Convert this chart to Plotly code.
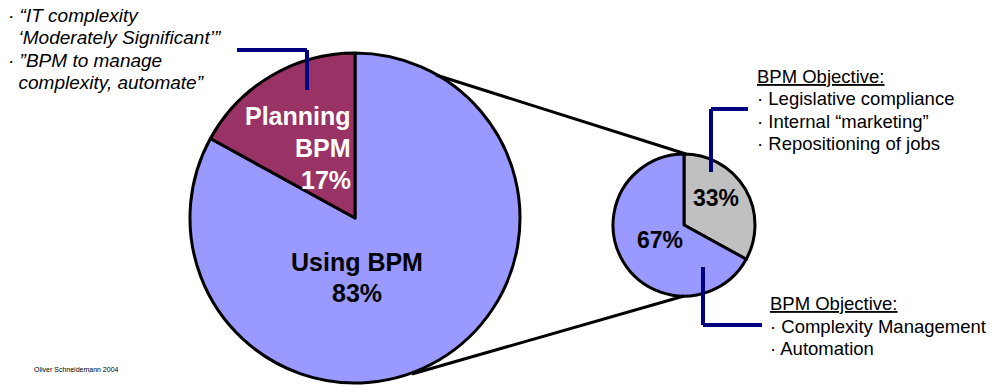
import plotly.graph_objects as go

W, H = 994, 385

# Survey split and the drill-down of the "Using BPM" share
main_labels = ["Using BPM", "Planning BPM"]
main_values = [83, 17]
main_colors = ["#9999FF", "#993366"]

sub_labels = ["Other objectives", "Complexity / automation"]
sub_values = [33, 67]
sub_colors = ["#C0C0C0", "#9999FF"]

left_notes = ["· “IT complexity", "  ‘Moderately Significant’”",
              "· ”BPM to manage", "  complexity, automate”"]
top_objectives = ["· Legislative compliance", "· Internal “marketing”", "· Repositioning of jobs"]
bottom_objectives = ["· Complexity Management", "· Automation"]

FONT = "Liberation Sans, Arial, sans-serif"


def px(x):
    return x / W


def py(y):
    return 1 - y / H


fig = go.Figure()

fig.add_trace(go.Pie(
    labels=main_labels, values=main_values, sort=False, direction="clockwise",
    rotation=0, textinfo="none", hoverinfo="label+percent",
    marker=dict(colors=main_colors, line=dict(color="black", width=3)),
    domain=dict(x=[px(190), px(520)], y=[py(383), py(53)]),
    showlegend=False,
))

fig.add_trace(go.Pie(
    labels=sub_labels, values=sub_values, sort=False, direction="clockwise",
    rotation=0, textinfo="none", hoverinfo="percent",
    marker=dict(colors=sub_colors, line=dict(color="black", width=3)),
    domain=dict(x=[px(613), px(755)], y=[py(296), py(154)]),
    showlegend=False,
))

shapes = []


def seg(x0, y0, x1, y1, color="black", width=3):
    shapes.append(dict(type="line", xref="paper", yref="paper",
                       x0=px(x0), y0=py(y0), x1=px(x1), y1=py(y1),
                       line=dict(color=color, width=width)))


# Zoom connectors between the two pies
seg(436, 75, 686, 154)
seg(412, 374, 684, 296)

NAVY = "#000080"
# Callout brackets
seg(237, 50, 307, 50, NAVY, 4)
seg(307, 50, 307, 90, NAVY, 4)
seg(711, 109, 748, 109, NAVY, 4)
seg(711, 109, 711, 172, NAVY, 4)
seg(703, 267, 703, 325, NAVY, 4)
seg(703, 325, 762, 325, NAVY, 4)

annotations = []


def txt(x, y, s, size, color="black", anchor="left", bold=False, italic=False):
    if bold:
        s = f"<b>{s}</b>"
    if italic:
        s = f"<i>{s}</i>"
    annotations.append(dict(x=px(x), y=py(y), xref="paper", yref="paper",
                            text=s, showarrow=False, xanchor=anchor, yanchor="middle",
                            font=dict(family=FONT, size=size, color=color)))


for i, line in enumerate(left_notes):
    txt(6, 15 + i * 22.5, line.replace("  ", "&nbsp;&nbsp;"), 19, italic=True)

# Slice labels
plan_lines = ["Planning", "BPM", f"{main_values[1]}%"]
for i, line in enumerate(plan_lines):
    txt(353, 116 + i * 32, line, 25, color="white", anchor="right", bold=True)
using_lines = ["Using BPM", f"{main_values[0]}%"]
for i, line in enumerate(using_lines):
    txt(357, 262 + i * 31, line, 25, anchor="center", bold=True)

txt(716, 198, f"{sub_values[0]}%", 23, anchor="center", bold=True)
txt(660, 240, f"{sub_values[1]}%", 23, anchor="center", bold=True)

# Objective notes
txt(755, 76, "<u>BPM Objective:</u>", 18.5)
for i, line in enumerate(top_objectives):
    txt(755, 99 + i * 22, line, 18.5)
txt(768, 303, "<u>BPM Objective:</u>", 18.5)
for i, line in enumerate(bottom_objectives):
    txt(768, 326 + i * 22, line, 18.5)

txt(32, 369, "Oliver Schneidemann 2004", 7)

fig.update_layout(
    width=W, height=H, margin=dict(l=0, r=0, t=0, b=0),
    paper_bgcolor="white", plot_bgcolor="white",
    shapes=shapes, annotations=annotations,
)

fig.write_html("out.html")
